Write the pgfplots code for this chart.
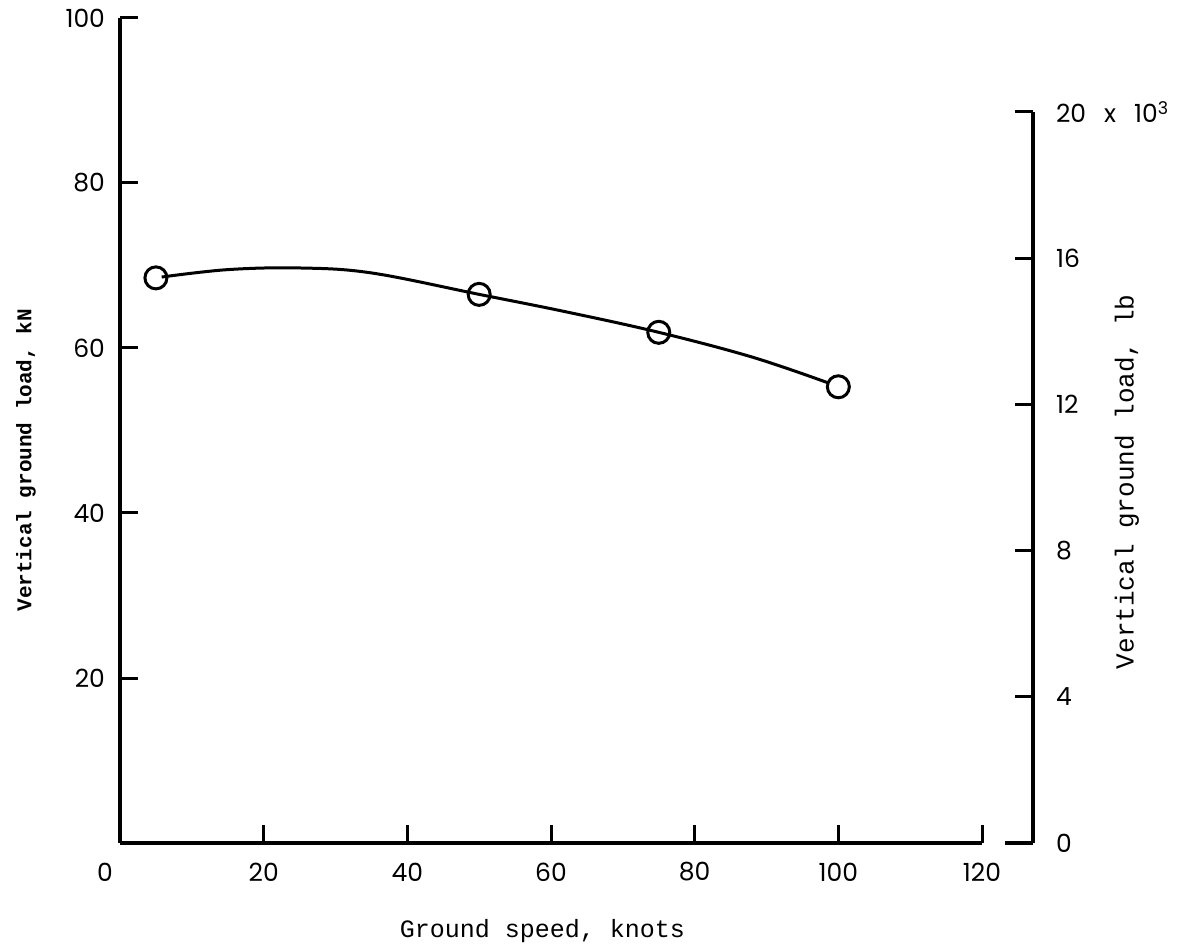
\documentclass[border=0pt]{standalone}
\usepackage{pgfplots}
\pgfplotsset{compat=1.18}
\usepackage{fontspec}
\setmainfont{Liberation Mono}
\newfontfamily\tickfont{Poppins}
\begin{document}
\begin{tikzpicture}[x=1pt,y=1pt]
\useasboundingbox (-60pt,-52.5pt) rectangle (531.5pt,421.5pt);
\begin{axis}[
  at={(0pt,0pt)}, anchor=south west,
  scale only axis, width=431pt, height=412.5pt,
  xmin=0, xmax=120, ymin=0, ymax=100,
  axis x line*=bottom, axis y line*=left,
  axis line style={line width=2pt,-},
  tick align=inside,
  major tick length=9pt,
  every tick/.style={line width=1.5pt,black},
  xtick={20,40,...,120}, ytick={20,40,...,100},
  extra x ticks={0},
  extra x tick style={xticklabel style={xshift=-7.5pt}, major tick length=0pt},
  /pgf/number format/assume math mode=true,
  ticklabel style={font=\tickfont\fontsize{12.5}{12.5}\selectfont},
  xticklabel style={anchor=center, yshift=-14.5pt},
  yticklabel style={anchor=east, xshift=-4pt},
  xlabel={Ground speed, knots},
  ylabel={Vertical ground load, kN},
  x label style={at={(rel axis cs:0.49,0)}, anchor=center, yshift=-44pt, font=\fontsize{12.5}{14}\selectfont},
  y label style={at={(rel axis cs:0,0.464)}, anchor=center, yshift=47pt, font=\bfseries\fontsize{10.5}{12}\selectfont},
  clip=false,
]
\addplot[line width=1.5pt, smooth, tension=0.6] coordinates {
  (5.8,68.6) (15,69.5) (25,69.7) (35,69.1) (50,66.5) (62,64.4) (75,61.9) (88,58.9) (98.5,55.8)
};
\addplot[only marks, mark=o, mark size=5.5pt, mark options={line width=1.5pt, fill=white, draw=black}] coordinates {
  (5,68.5) (50,66.5) (75,61.9) (100,55.3)
};
\end{axis}
\begin{axis}[
  at={(442.5pt,0pt)}, anchor=south west,
  scale only axis, width=14pt, height=365.5pt,
  xmin=0, xmax=1, ymin=0, ymax=20,
  axis x line*=bottom, axis y line*=right,
  axis line style={line width=2pt,-},
  tick align=inside,
  major tick length=9pt,
  every tick/.style={line width=1.5pt,black},
  xtick=\empty, ytick={0,4,...,20},
  yticklabels={0,4,8,12,16,{20\hspace{9pt}x\hspace{9pt}10\textsuperscript{3}}},
  ticklabel style={font=\tickfont\fontsize{12.5}{12.5}\selectfont},
  yticklabel style={anchor=west, xshift=8pt},
  ylabel={Vertical ground load, lb},
  y label style={at={(rel axis cs:1,0.494)}, anchor=center, yshift=-47pt, font=\fontsize{13}{14}\selectfont},
  clip=false,
]
\end{axis}
\end{tikzpicture}
\end{document}
